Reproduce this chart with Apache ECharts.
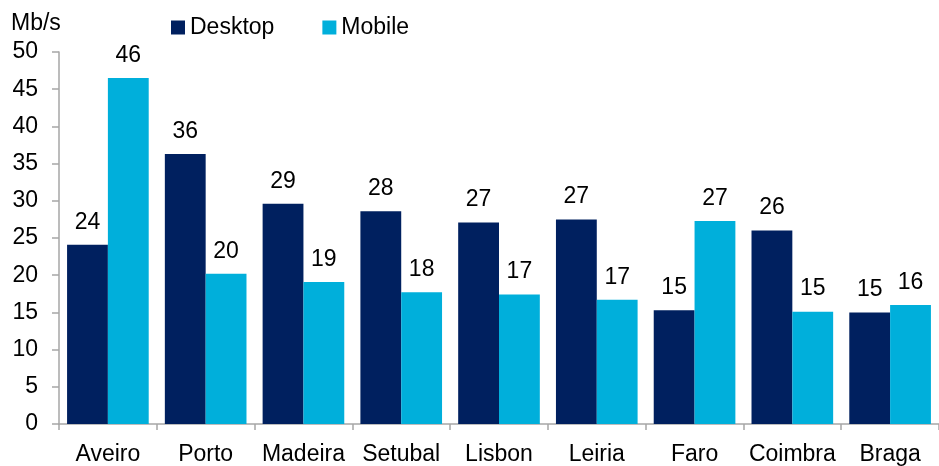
<!DOCTYPE html>
<html><head><meta charset="utf-8">
<script src="https://cdn.jsdelivr.net/npm/echarts@6/dist/echarts.min.js"></script>
<style>html,body{margin:0;padding:0;background:#fff}#c{width:939px;height:466px}</style>
</head><body><div id="c"></div>
<script>
const categories = ['Aveiro','Porto','Madeira','Setubal','Lisbon','Leiria','Faro','Coimbra','Braga'];
const desktopValues = [24.1, 36.3, 29.6, 28.6, 27.1, 27.5, 15.3, 26.0, 15.0];
const mobileValues  = [46.5, 20.2, 19.1, 17.7, 17.4, 16.7, 27.3, 15.1, 16.0];
const desktopLabels = ['24','36','29','28','27','27','15','26','15'];
const mobileLabels  = ['46','20','19','18','17','17','27','15','16'];
const yTicks = [0,5,10,15,20,25,30,35,40,45,50];

const FONT = '"Liberation Sans", Arial, sans-serif';
const FS = 23;
const chart = echarts.init(document.getElementById('c'));
chart.setOption({
  animation: false,
  textStyle: { fontFamily: FONT },
  title: { text: 'Mb/s', left: 11, top: 12, padding: 0, textStyle: { fontFamily: FONT, fontSize: FS, fontWeight: 'normal', color: '#000' } },
  legend: {
    left: 171, top: 16, padding: 0, itemWidth: 14, itemHeight: 14, itemGap: 48,
    icon: 'rect',
    textStyle: { fontFamily: FONT, fontSize: FS, color: '#000' },
    data: ['Desktop','Mobile']
  },
  grid: { left: 59, right: 0, top: 52, bottom: 42, containLabel: false },
  xAxis: {
    type: 'category', data: categories,
    axisLine: { lineStyle: { color: '#A6A6A6', width: 1.5 } },
    axisTick: { show: true, length: 6, lineStyle: { color: '#A6A6A6', width: 1.5 } },
    axisLabel: { interval: 0, fontFamily: FONT, fontSize: FS, color: '#000', margin: 19 }
  },
  yAxis: {
    type: 'value', min: yTicks[0], max: yTicks[yTicks.length-1], interval: 5,
    splitLine: { show: false },
    axisLine: { show: true, lineStyle: { color: '#A6A6A6', width: 1.5 } },
    axisTick: { show: true, length: 7, lineStyle: { color: '#A6A6A6', width: 1.5 } },
    axisLabel: { fontFamily: FONT, fontSize: FS, color: '#000', margin: 21 }
  },
  series: [
    { name: 'Desktop', type: 'bar', data: desktopValues, barGap: '0%', barCategoryGap: '16.5%',
      itemStyle: { color: '#00205F' },
      label: { show: true, position: 'top', distance: 11, fontFamily: FONT, fontSize: FS, color: '#000',
        formatter: p => desktopLabels[p.dataIndex] } },
    { name: 'Mobile', type: 'bar', data: mobileValues, barGap: '0%', barCategoryGap: '16.5%',
      itemStyle: { color: '#00AFDB' },
      label: { show: true, position: 'top', distance: 11, fontFamily: FONT, fontSize: FS, color: '#000',
        formatter: p => mobileLabels[p.dataIndex] } }
  ]
});
</script></body></html>
